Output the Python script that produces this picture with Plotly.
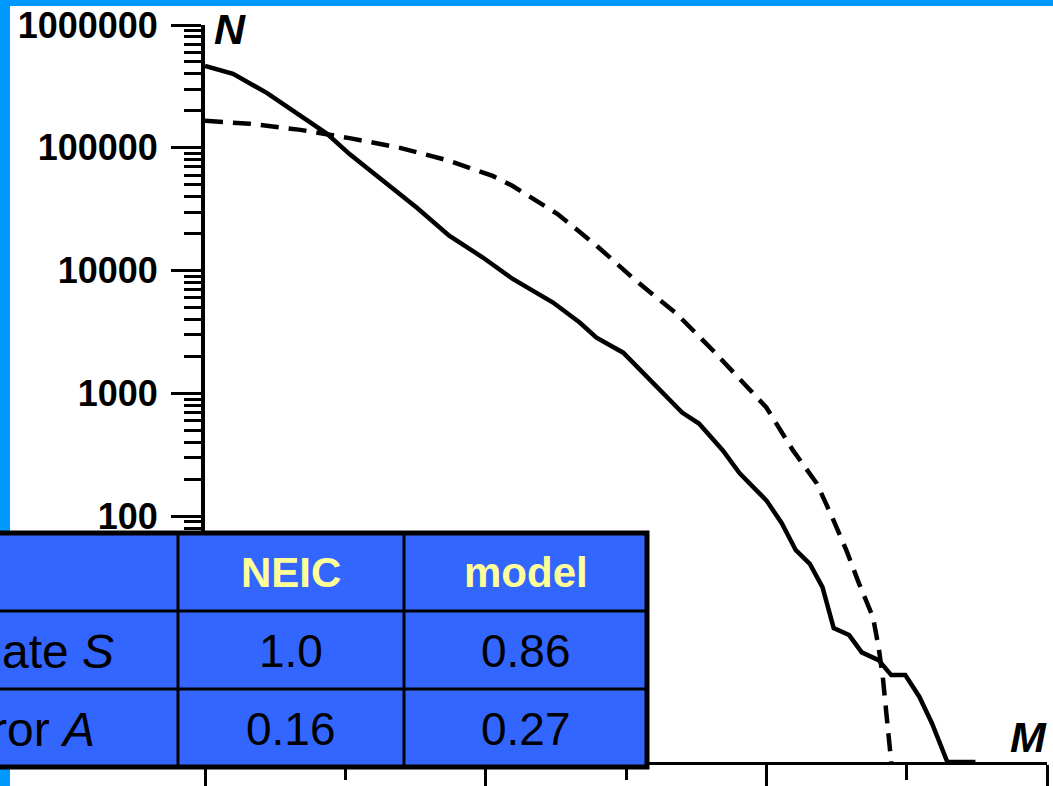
import plotly.graph_objects as go

# ---- data ----
M_neic = [3.00, 3.20, 3.44, 3.68, 3.87, 4.03, 4.27, 4.51, 4.74, 4.98, 5.19, 5.48,
          5.67, 5.79, 5.98, 6.15, 6.40, 6.52, 6.69, 6.81, 7.00, 7.11, 7.21, 7.31,
          7.40, 7.48, 7.59, 7.68, 7.80, 7.89, 7.99, 8.09, 8.18, 8.29, 8.49]
N_neic = [464000, 400000, 280000, 182000, 130000, 89000, 54000, 32500, 19300, 12800,
          8600, 5500, 3780, 2850, 2150, 1350, 700, 570, 344, 224, 135, 88, 53, 41,
          26.5, 12.3, 10.8, 7.8, 6.75, 5.1, 5.1, 3.4, 2.07, 1, 1]

M_model = [3.00, 3.32, 3.68, 4.03, 4.39, 4.74, 5.05, 5.19, 5.51, 5.79, 6.07, 6.36,
           6.62, 6.86, 7.00, 7.19, 7.36, 7.47, 7.57, 7.66, 7.76, 7.80, 7.83, 7.86, 7.89]
N_model = [166000, 157000, 140000, 120000, 100000, 78400, 59100, 49100, 29000, 16000,
           8300, 4470, 2240, 1120, 770, 344, 185, 98, 53, 28.5, 15.1, 8.6, 4.9, 2.2, 1]

y_tickvals = [1, 10, 100, 1000, 10000, 100000, 1000000]
y_ticktext = ["", "", "100", "1000", "10000", "100000", "1000000"]

table_header = ["", "NEIC", "model"]
table_rows = [["Estimate <i>S</i>", "1.0", "0.86"],
              ["Error <i>A</i>", "0.16", "0.27"]]

# ---- layout geometry (pixels) ----
W, H = 1053, 786
L, R, T, B = 205, 1047, 25, 762


def px(x):
    return (x - L) / (R - L)


def py(y):
    return (B - y) / (B - T)


FONT = "Arial, Liberation Sans, sans-serif"

fig = go.Figure()
fig.add_trace(go.Scatter(x=M_neic, y=N_neic, mode="lines",
                         line=dict(color="black", width=4.5), showlegend=False))
fig.add_trace(go.Scatter(x=M_model, y=N_model, mode="lines",
                         line=dict(color="black", width=4.5, dash="18px,10px"),
                         showlegend=False))

shapes = []
# blue page strips (top and left)
shapes.append(dict(type="rect", xref="paper", yref="paper", x0=px(-20), x1=px(W + 20),
                   y0=py(6), y1=py(-20), fillcolor="#0099FF", line=dict(width=0),
                   layer="above"))
shapes.append(dict(type="rect", xref="paper", yref="paper", x0=px(-20), x1=px(10),
                   y0=py(H + 20), y1=py(-20), fillcolor="#0099FF", line=dict(width=0),
                   layer="above"))
# table
tx0, tx1, ty0, ty1 = -10, 647, 533, 767
col_x = [178, 404]
row_y = [611, 689]
shapes.append(dict(type="rect", xref="paper", yref="paper", x0=px(tx0), x1=px(tx1),
                   y0=py(ty1), y1=py(ty0), fillcolor="#3366FF",
                   line=dict(color="black", width=5), layer="above"))
for cx in col_x:
    shapes.append(dict(type="line", xref="paper", yref="paper", x0=px(cx), x1=px(cx),
                       y0=py(ty1), y1=py(ty0), line=dict(color="black", width=3),
                       layer="above"))
for ry in row_y:
    shapes.append(dict(type="line", xref="paper", yref="paper", x0=px(tx0), x1=px(tx1),
                       y0=py(ry), y1=py(ry), line=dict(color="black", width=3),
                       layer="above"))

annotations = []
centers_x = [None, 291, 526]
header_y = 572
rows_y = [651, 729]
for j, h in enumerate(table_header):
    if h:
        annotations.append(dict(xref="paper", yref="paper", x=px(centers_x[j]),
                                y=py(header_y), text="<b>" + h + "</b>", showarrow=False,
                                xanchor="center", yanchor="middle",
                                font=dict(family=FONT, size=42, color="#FFFF99")))
left_right_edges = [116, 97]
for i, row in enumerate(table_rows):
    annotations.append(dict(xref="paper", yref="paper", x=px(left_right_edges[i]),
                            y=py(rows_y[i]), text=row[0], showarrow=False,
                            xanchor="right", yanchor="middle",
                            font=dict(family=FONT, size=48, color="black")))
    for j in (1, 2):
        annotations.append(dict(xref="paper", yref="paper", x=px(centers_x[j]),
                                y=py(rows_y[i]), text=row[j], showarrow=False,
                                xanchor="center", yanchor="middle",
                                font=dict(family=FONT, size=46, color="black")))
# axis titles
annotations.append(dict(xref="paper", yref="paper", x=px(212), y=py(29),
                        text="<b><i>N</i></b>", showarrow=False, xanchor="left",
                        yanchor="middle", font=dict(family=FONT, size=43, color="black")))
annotations.append(dict(xref="paper", yref="paper", x=px(1049), y=py(737),
                        text="<b><i>M</i></b>", showarrow=False, xanchor="right",
                        yanchor="middle", font=dict(family=FONT, size=43, color="black")))

fig.update_layout(
    width=W, height=H,
    margin=dict(l=L, r=W - R, t=T, b=H - B, autoexpand=False),
    paper_bgcolor="white", plot_bgcolor="white",
    shapes=shapes, annotations=annotations,
    xaxis=dict(range=[3, 9], showgrid=False, zeroline=False, showline=True,
               automargin=False,
               linecolor="black", linewidth=3, ticks="outside", ticklen=30,
               tickwidth=3, tickcolor="black", tick0=3, dtick=2,
               showticklabels=False,
               minor=dict(ticks="outside", ticklen=15, tickwidth=3,
                          tickcolor="black", tick0=3, dtick=1, showgrid=False)),
    yaxis=dict(type="log", range=[0, 6], showgrid=False, zeroline=False, showline=True,
               automargin=False,
               linecolor="black", linewidth=4, ticks="outside", ticklen=30,
               tickwidth=3, tickcolor="black", tickvals=y_tickvals,
               ticktext=y_ticktext, ticklabelstandoff=6,
               tickfont=dict(family=FONT, size=36, color="black", weight="bold"),
               minor=dict(ticks="outside", ticklen=17, tickwidth=3,
                          tickcolor="black", dtick="D1", showgrid=False)),
)

fig.write_html("out.html")
